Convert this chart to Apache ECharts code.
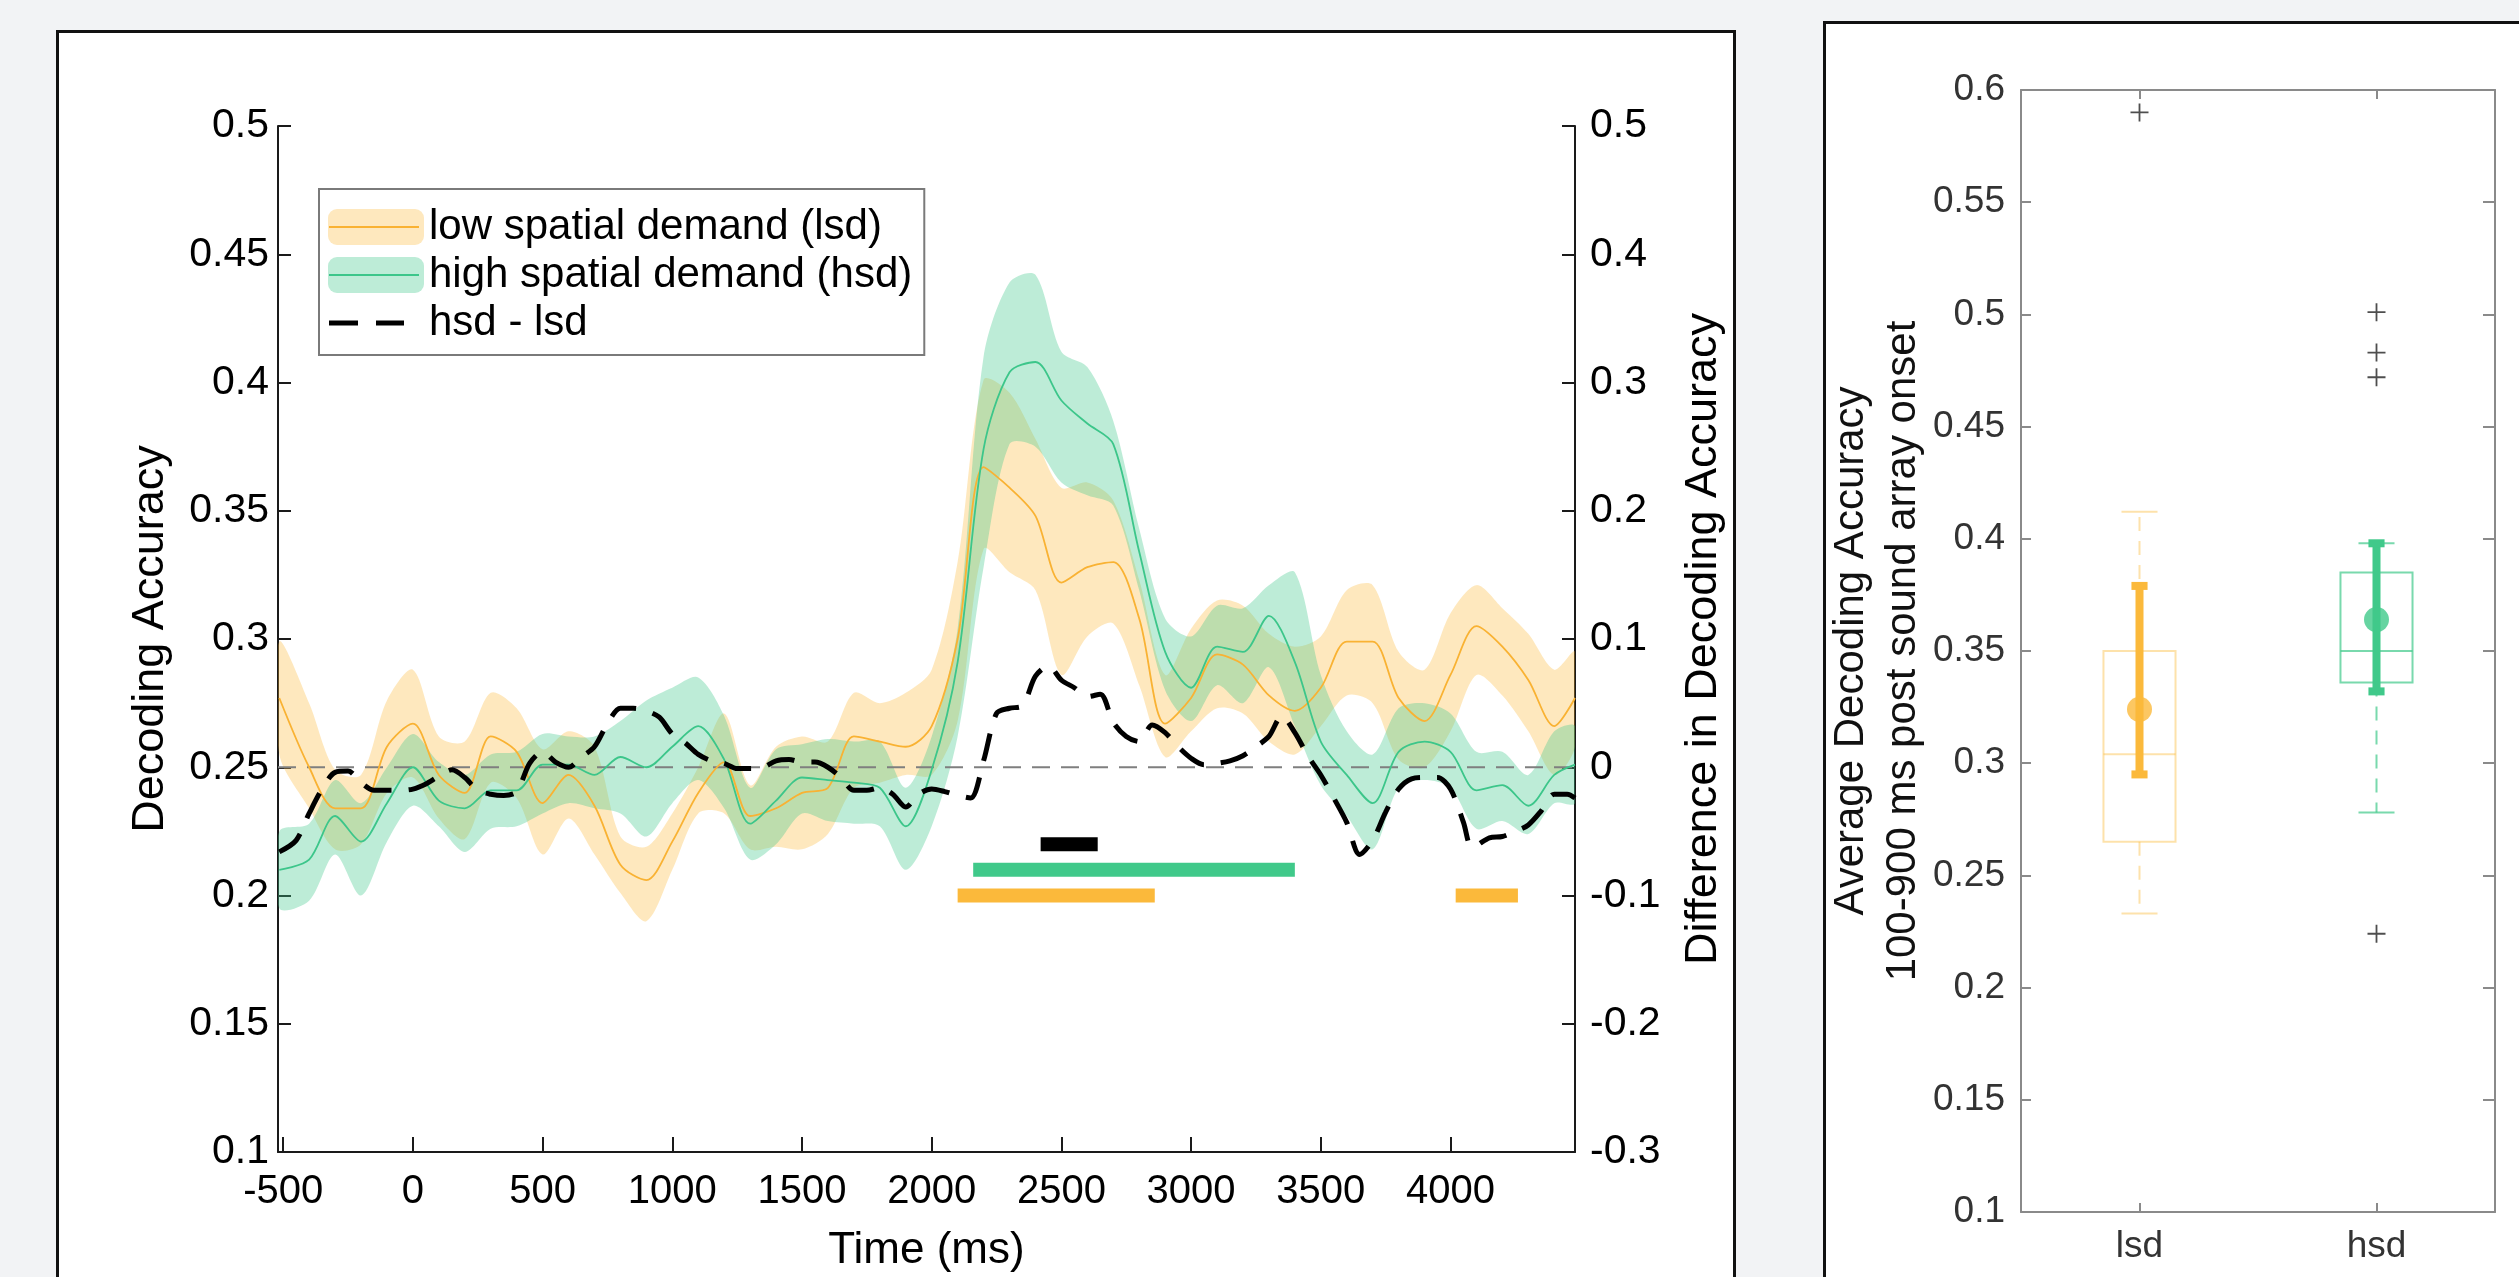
<!DOCTYPE html>
<html>
<head>
<meta charset="utf-8">
<title>Decoding accuracy, lsd vs hsd</title>
<script src="https://cdn.jsdelivr.net/npm/echarts@6/dist/echarts.min.js"></script>
<style>
    html, body { margin: 0; padding: 0; background: #f2f3f5; overflow: hidden; }
    .panel { position: absolute; background: #fff; border: 3px solid #111; box-sizing: border-box; }
    #panelLeft { left: 56px; top: 30px; width: 1680px; height: 1300px; }
    #panelRight { left: 1823px; top: 21px; width: 760px; height: 1300px; }
    #chart { position: absolute; left: 0; top: 0; width: 2519px; height: 1277px; }
</style>
</head>
<body>
<div class="panel" id="panelLeft"></div>
<div class="panel" id="panelRight"></div>
<div id="chart"></div>
<script>
// time course (ms) and decoding accuracy
var times = [-515, -400, -300, -200, -100, 0, 100, 200, 300, 400, 500, 600, 700, 800, 900, 1000, 1100, 1200, 1300, 1400, 1500, 1600, 1700, 1800, 1900, 2000, 2100, 2200, 2300, 2400, 2500, 2600, 2700, 2800, 2900, 3000, 3100, 3200, 3300, 3400, 3500, 3600, 3700, 3800, 3900, 4000, 4100, 4200, 4300, 4400, 4480];
var lsdMean = [0.277, 0.250, 0.234, 0.234, 0.258, 0.267, 0.247, 0.240, 0.262, 0.256, 0.236, 0.247, 0.235, 0.212, 0.206, 0.221, 0.240, 0.252, 0.231, 0.234, 0.240, 0.242, 0.262, 0.260, 0.258, 0.266, 0.300, 0.367, 0.359, 0.348, 0.322, 0.328, 0.330, 0.308, 0.267, 0.277, 0.294, 0.290, 0.278, 0.272, 0.281, 0.299, 0.299, 0.277, 0.268, 0.286, 0.305, 0.297, 0.284, 0.266, 0.277];
var lsdUpper = [0.299, 0.275, 0.249, 0.247, 0.276, 0.288, 0.262, 0.260, 0.279, 0.273, 0.257, 0.264, 0.258, 0.223, 0.219, 0.232, 0.250, 0.271, 0.243, 0.258, 0.262, 0.260, 0.279, 0.275, 0.279, 0.288, 0.330, 0.401, 0.396, 0.378, 0.359, 0.361, 0.354, 0.323, 0.286, 0.304, 0.315, 0.313, 0.302, 0.297, 0.301, 0.319, 0.321, 0.295, 0.288, 0.310, 0.321, 0.312, 0.302, 0.288, 0.295];
var lsdLower = [0.255, 0.234, 0.218, 0.220, 0.240, 0.246, 0.230, 0.222, 0.244, 0.238, 0.216, 0.230, 0.216, 0.201, 0.190, 0.210, 0.232, 0.232, 0.218, 0.219, 0.218, 0.224, 0.242, 0.244, 0.247, 0.247, 0.268, 0.335, 0.326, 0.319, 0.286, 0.301, 0.306, 0.282, 0.254, 0.264, 0.273, 0.271, 0.260, 0.255, 0.266, 0.278, 0.275, 0.253, 0.250, 0.264, 0.286, 0.278, 0.264, 0.247, 0.258];
var hsdMean = [0.210, 0.214, 0.231, 0.221, 0.236, 0.250, 0.237, 0.234, 0.241, 0.241, 0.251, 0.251, 0.247, 0.254, 0.250, 0.258, 0.266, 0.253, 0.228, 0.237, 0.246, 0.245, 0.244, 0.242, 0.227, 0.249, 0.291, 0.374, 0.404, 0.408, 0.393, 0.384, 0.376, 0.334, 0.295, 0.281, 0.297, 0.295, 0.309, 0.291, 0.260, 0.247, 0.236, 0.256, 0.260, 0.256, 0.241, 0.243, 0.235, 0.247, 0.251];
var hsdUpper = [0.225, 0.228, 0.245, 0.236, 0.250, 0.263, 0.252, 0.247, 0.255, 0.256, 0.263, 0.262, 0.262, 0.268, 0.276, 0.281, 0.285, 0.270, 0.242, 0.257, 0.259, 0.261, 0.260, 0.260, 0.242, 0.262, 0.304, 0.410, 0.439, 0.442, 0.412, 0.406, 0.385, 0.343, 0.308, 0.301, 0.313, 0.312, 0.321, 0.326, 0.286, 0.264, 0.255, 0.273, 0.275, 0.271, 0.256, 0.256, 0.247, 0.264, 0.266];
var hsdLower = [0.195, 0.198, 0.216, 0.200, 0.221, 0.235, 0.227, 0.217, 0.226, 0.227, 0.232, 0.236, 0.234, 0.232, 0.223, 0.236, 0.245, 0.234, 0.214, 0.220, 0.232, 0.229, 0.228, 0.227, 0.210, 0.227, 0.262, 0.328, 0.376, 0.375, 0.361, 0.356, 0.352, 0.319, 0.280, 0.268, 0.282, 0.275, 0.289, 0.266, 0.243, 0.231, 0.218, 0.242, 0.245, 0.242, 0.226, 0.229, 0.224, 0.236, 0.236];

// hsd - lsd, sampled more finely (right axis)
var diffTimes = [-515, -450, -400, -350, -300, -250, -200, -150, -100, -50, 0, 50, 100, 150, 200, 250, 300, 350, 400, 450, 500, 550, 600, 650, 700, 750, 800, 850, 900, 950, 1000, 1050, 1100, 1150, 1200, 1250, 1300, 1350, 1400, 1450, 1500, 1550, 1600, 1650, 1700, 1750, 1800, 1850, 1900, 1950, 2000, 2050, 2100, 2150, 2200, 2250, 2300, 2350, 2400, 2450, 2500, 2550, 2600, 2650, 2700, 2750, 2800, 2850, 2900, 2950, 3000, 3050, 3100, 3150, 3200, 3250, 3300, 3350, 3400, 3450, 3500, 3550, 3600, 3650, 3700, 3750, 3800, 3850, 3900, 3950, 4000, 4050, 4080, 4100, 4150, 4200, 4250, 4300, 4350, 4400, 4450, 4480];
var hsdMinusLsd = [-0.066, -0.057, -0.036, -0.017, -0.004, -0.003, -0.012, -0.018, -0.018, -0.018, -0.017, -0.013, -0.007, -0.002, -0.008, -0.018, -0.021, -0.022, -0.019, 0.003, 0.012, 0.004, 0.000, 0.008, 0.016, 0.034, 0.046, 0.046, 0.044, 0.039, 0.026, 0.019, 0.010, 0.005, 0.003, -0.001, -0.001, 0.000, 0.005, 0.006, 0.004, 0.004, 0.000, -0.008, -0.018, -0.018, -0.016, -0.021, -0.031, -0.021, -0.017, -0.019, -0.022, -0.024, 0.005, 0.042, 0.046, 0.048, 0.071, 0.079, 0.068, 0.062, 0.055, 0.057, 0.035, 0.024, 0.020, 0.033, 0.027, 0.016, 0.007, 0.002, 0.003, 0.005, 0.009, 0.016, 0.024, 0.040, 0.027, 0.009, -0.006, -0.024, -0.043, -0.068, -0.057, -0.035, -0.017, -0.009, -0.008, -0.008, -0.017, -0.043, -0.062, -0.061, -0.055, -0.054, -0.050, -0.045, -0.034, -0.021, -0.021, -0.024];

var timeRange = [-520, 4480];
var timeTicks = [-500, 0, 500, 1000, 1500, 2000, 2500, 3000, 3500, 4000];
var chanceLevel = 0.25;

// significant clusters (ms)
var sigLsd = [[2100, 2860], [4020, 4260]];
var sigHsd = [[2160, 3400]];
var sigDiff = [[2420, 2640]];

// 100-900 ms averages: [min, q1, median, q3, max]
var boxGroups = ['lsd', 'hsd'];
var boxStats = [[0.233, 0.265, 0.304, 0.350, 0.412], [0.278, 0.336, 0.350, 0.385, 0.398]];
var groupMeans = [0.324, 0.364];
var meanLow = [0.295, 0.332];
var meanHigh = [0.379, 0.398];
var outliers = [[0, 0.590], [1, 0.501], [1, 0.483], [1, 0.472], [1, 0.224]];

var FONT = 'Liberation Sans, Arial, Helvetica, sans-serif';
var LSD_NAME = 'low spatial demand (lsd)';
var HSD_NAME = 'high spatial demand (hsd)';
var DIFF_NAME = 'hsd - lsd';
var lsdColor = '#F9B233';
var hsdColor = '#3CC68A';
var lsdFill = 'rgba(251,182,44,0.31)';
var hsdFill = 'rgba(64,201,138,0.345)';
var groupColors = ['#FBB93B', '#40C98A'];
var boxLineColors = ['rgba(251,182,44,0.4)', 'rgba(64,201,138,0.7)'];
var PLUS = 'path://M9,0h2v9h9v2h-9v9h-2v-9h-9v-2h9z';
var DASH_ICON = 'path://M0,0h0.1v0.1h-0.1z M95.9,35.9h0.1v0.1h-0.1z M1,15.5h29v5h-29z M48,15.5h28v5h-28z';

function pairs(xs, ys) {
    return xs.map(function(x, i){ return [x, ys[i]]; });
}

// confidence band: one polygon, upper edge forward then lower edge back
function bandSeries(lower, upper, fill) {
    return {
        type: 'custom', silent: true, clip: true,
        encode: {x: 0, y: [1, 2]},
        data: [[times[0], lower[0], upper[0]]],
        renderItem: function(params, api) {
            var top = times.map(function(t, i){ return api.coord([t, upper[i]]); });
            var bottom = times.map(function(t, i){ return api.coord([t, lower[i]]); }).reverse();
            return {
                type: 'polygon',
                shape: {points: top.concat(bottom), smooth: 0.3},
                style: {fill: fill, stroke: 'none'}
            };
        }
    };
}

function sigSeries(ranges, level, color) {
    return ranges.map(function(r){
        return {
            type: 'line', data: [[r[0], level], [r[1], level]],
            symbol: 'none', silent: true,
            lineStyle: {color: color, width: 14, cap: 'butt'}
        };
    });
}

function renderBox(params, api) {
    var i = api.value(0);
    var band = api.size([1, 0])[0];
    var halfBox = band * 0.152;
    var halfCap = band * 0.076;
    var x = api.coord([i, 0.1])[0];
    var y = [1, 2, 3, 4, 5].map(function(d){ return api.coord([i, api.value(d)])[1]; });
    var solid = {stroke: boxLineColors[i], lineWidth: 2, fill: 'none'};
    var dashed = {stroke: boxLineColors[i], lineWidth: 2, fill: 'none', lineDash: [14, 10]};
    return {
        type: 'group',
        children: [
            {type: 'rect', shape: {x: x - halfBox, y: y[3], width: halfBox * 2, height: y[1] - y[3]}, style: solid},
            {type: 'line', shape: {x1: x - halfBox, y1: y[2], x2: x + halfBox, y2: y[2]}, style: solid},
            {type: 'line', shape: {x1: x, y1: y[3], x2: x, y2: y[4]}, style: dashed},
            {type: 'line', shape: {x1: x, y1: y[1], x2: x, y2: y[0]}, style: dashed},
            {type: 'line', shape: {x1: x - halfCap, y1: y[4], x2: x + halfCap, y2: y[4]}, style: solid},
            {type: 'line', shape: {x1: x - halfCap, y1: y[0], x2: x + halfCap, y2: y[0]}, style: solid}
        ]
    };
}

function renderErrorBar(params, api) {
    var i = api.value(0);
    var halfCap = api.size([1, 0])[0] * 0.034;
    var lo = api.coord([i, api.value(1)]);
    var hi = api.coord([i, api.value(2)]);
    var st = {stroke: groupColors[i], lineWidth: 8, fill: 'none'};
    return {
        type: 'group',
        children: [
            {type: 'line', shape: {x1: lo[0], y1: lo[1], x2: hi[0], y2: hi[1]}, style: st},
            {type: 'line', shape: {x1: lo[0] - halfCap, y1: lo[1], x2: lo[0] + halfCap, y2: lo[1]}, style: st},
            {type: 'line', shape: {x1: hi[0] - halfCap, y1: hi[1], x2: hi[0] + halfCap, y2: hi[1]}, style: st}
        ]
    };
}

var chart = echarts.init(document.getElementById('chart'), null, {renderer: 'canvas'});

var blackAxis = {show: true, onZero: false, lineStyle: {color: '#1a1a1a', width: 2}};
var greyAxis = {show: true, onZero: false, lineStyle: {color: '#8a8a8a', width: 2}};

/* legend box sits at (319,189); the thin mean-line strokes go over its swatches */
var legendLeft = 319, legendTop = 189, legendPadTop = 17, legendRow = 48;
var swatchLines = [lsdColor, hsdColor].map(function(c, k){
    var y = legendTop + legendPadTop + 21 + k * legendRow;
    return {
        type: 'line', z: 100,
        shape: {x1: legendLeft + 10, y1: y, x2: legendLeft + 100, y2: y},
        style: {stroke: c, lineWidth: 2}
    };
});

var series = [];
series.push(bandSeries(lsdLower, lsdUpper, lsdFill));
series.push(bandSeries(hsdLower, hsdUpper, hsdFill));
series.push({
    type: 'line', data: [[timeRange[0], chanceLevel], [timeRange[1], chanceLevel]],
    symbol: 'none', silent: true,
    lineStyle: {color: '#7f7f7f', width: 2, type: [18, 11]}
});
series.push({
    name: LSD_NAME, type: 'line', data: pairs(times, lsdMean),
    smooth: 0.3, symbol: 'none', lineStyle: {color: lsdColor, width: 1.8}
});
series.push({
    name: HSD_NAME, type: 'line', data: pairs(times, hsdMean),
    smooth: 0.3, symbol: 'none', lineStyle: {color: hsdColor, width: 1.8}
});
series.push({
    name: DIFF_NAME, type: 'line', yAxisIndex: 1, data: pairs(diffTimes, hsdMinusLsd),
    smooth: 0.3, symbol: 'none', lineStyle: {color: '#000', width: 5, type: [28, 17]}
});
series = series.concat(sigSeries(sigDiff, 0.22, '#000'));
series = series.concat(sigSeries(sigHsd, 0.21, groupColors[1]));
series = series.concat(sigSeries(sigLsd, 0.20, groupColors[0]));

// box panel
series.push({
    type: 'custom', xAxisIndex: 1, yAxisIndex: 2, silent: true, clip: false,
    renderItem: renderBox,
    encode: {x: 0, y: [1, 2, 3, 4, 5]},
    data: boxStats.map(function(s, i){ return [i].concat(s); })
});
series.push({
    type: 'custom', xAxisIndex: 1, yAxisIndex: 2, silent: true, clip: false,
    renderItem: renderErrorBar,
    encode: {x: 0, y: [1, 2]},
    data: meanLow.map(function(v, i){ return [i, v, meanHigh[i]]; })
});
series.push({
    type: 'scatter', xAxisIndex: 1, yAxisIndex: 2, silent: true,
    symbolSize: 25,
    data: groupMeans.map(function(v, i){ return {value: [i, v], itemStyle: {color: groupColors[i]}}; })
});
series.push({
    type: 'scatter', xAxisIndex: 1, yAxisIndex: 2, silent: true,
    symbol: PLUS, symbolSize: 18, itemStyle: {color: '#222'},
    data: outliers
});

var option = {
    animation: false,
    textStyle: {fontFamily: FONT},
    graphic: swatchLines,
    legend: {
        orient: 'vertical', left: legendLeft, top: legendTop,
        padding: [legendPadTop, 12, 11, 9], itemGap: 6, itemWidth: 96, itemHeight: 36,
        borderColor: '#7a7a7a', borderWidth: 2, backgroundColor: '#fff',
        selectedMode: false,
        textStyle: {fontSize: 42, color: '#000', fontFamily: FONT},
        data: [
            {name: LSD_NAME, icon: 'roundRect', itemStyle: {color: '#FEE8BE', borderWidth: 0}},
            {name: HSD_NAME, icon: 'roundRect', itemStyle: {color: '#BDECD7', borderWidth: 0}},
            {name: DIFF_NAME, icon: DASH_ICON, itemStyle: {color: '#000', borderWidth: 0}}
        ]
    },
    grid: [
        {left: 278, top: 126, width: 1297, height: 1026, outerBoundsMode: 'none'},
        {left: 2021, top: 90, width: 474, height: 1122, outerBoundsMode: 'none'}
    ],
    xAxis: [{
        type: 'value', gridIndex: 0, min: timeRange[0], max: timeRange[1],
        name: 'Time (ms)', nameLocation: 'middle', nameGap: 77,
        nameTextStyle: {fontSize: 44, color: '#000'},
        axisLine: blackAxis,
        axisTick: {show: true, inside: true, length: 15, customValues: timeTicks, lineStyle: {color: '#1a1a1a', width: 2}},
        axisLabel: {
            customValues: timeTicks, fontSize: 40, color: '#000', margin: 20,
            formatter: function(v){ return String(v); }
        },
        splitLine: {show: false}
    }, {
        type: 'category', gridIndex: 1, position: 'bottom', data: boxGroups,
        axisLine: greyAxis,
        axisTick: {show: true, inside: true, alignWithLabel: true, length: 9, lineStyle: {color: '#8a8a8a', width: 2}},
        axisLabel: {fontSize: 37, color: '#333', margin: 16},
        splitLine: {show: false}
    }, {
        type: 'category', gridIndex: 1, position: 'top', data: boxGroups,
        axisLine: greyAxis,
        axisTick: {show: true, inside: true, alignWithLabel: true, length: 9, lineStyle: {color: '#8a8a8a', width: 2}},
        axisLabel: {show: false},
        splitLine: {show: false}
    }],
    yAxis: [{
        type: 'value', gridIndex: 0, position: 'left', min: 0.1, max: 0.5, interval: 0.05,
        name: 'Decoding Accuracy', nameLocation: 'middle', nameGap: 105,
        nameTextStyle: {fontSize: 45, color: '#000'},
        axisLine: blackAxis,
        axisTick: {show: true, inside: true, length: 13, lineStyle: {color: '#1a1a1a', width: 2}},
        axisLabel: {fontSize: 41, color: '#000', margin: 9},
        splitLine: {show: false}
    }, {
        type: 'value', gridIndex: 0, position: 'right', min: -0.3, max: 0.5, interval: 0.1,
        name: 'Difference in Decoding Accuracy', nameLocation: 'middle', nameGap: 106,
        nameTextStyle: {fontSize: 45, color: '#000'},
        axisLine: blackAxis,
        axisTick: {show: true, inside: true, length: 13, lineStyle: {color: '#1a1a1a', width: 2}},
        axisLabel: {fontSize: 41, color: '#000', margin: 15},
        splitLine: {show: false}
    }, {
        type: 'value', gridIndex: 1, position: 'left', min: 0.1, max: 0.6, interval: 0.05,
        name: 'Average Decoding Accuracy\n100-900 ms post sound array onset',
        nameLocation: 'middle', nameGap: 92,
        nameTextStyle: {fontSize: 42, color: '#111', lineHeight: 52},
        axisLine: greyAxis,
        axisTick: {show: true, inside: true, length: 10, lineStyle: {color: '#8a8a8a', width: 2}},
        axisLabel: {fontSize: 37, color: '#333', margin: 16},
        splitLine: {show: false}
    }, {
        type: 'value', gridIndex: 1, position: 'right', min: 0.1, max: 0.6, interval: 0.05,
        axisLine: greyAxis,
        axisTick: {show: true, inside: true, length: 12, lineStyle: {color: '#8a8a8a', width: 2}},
        axisLabel: {show: false},
        splitLine: {show: false}
    }],
    series: series
};

chart.setOption(option);
</script>
</body>
</html>
